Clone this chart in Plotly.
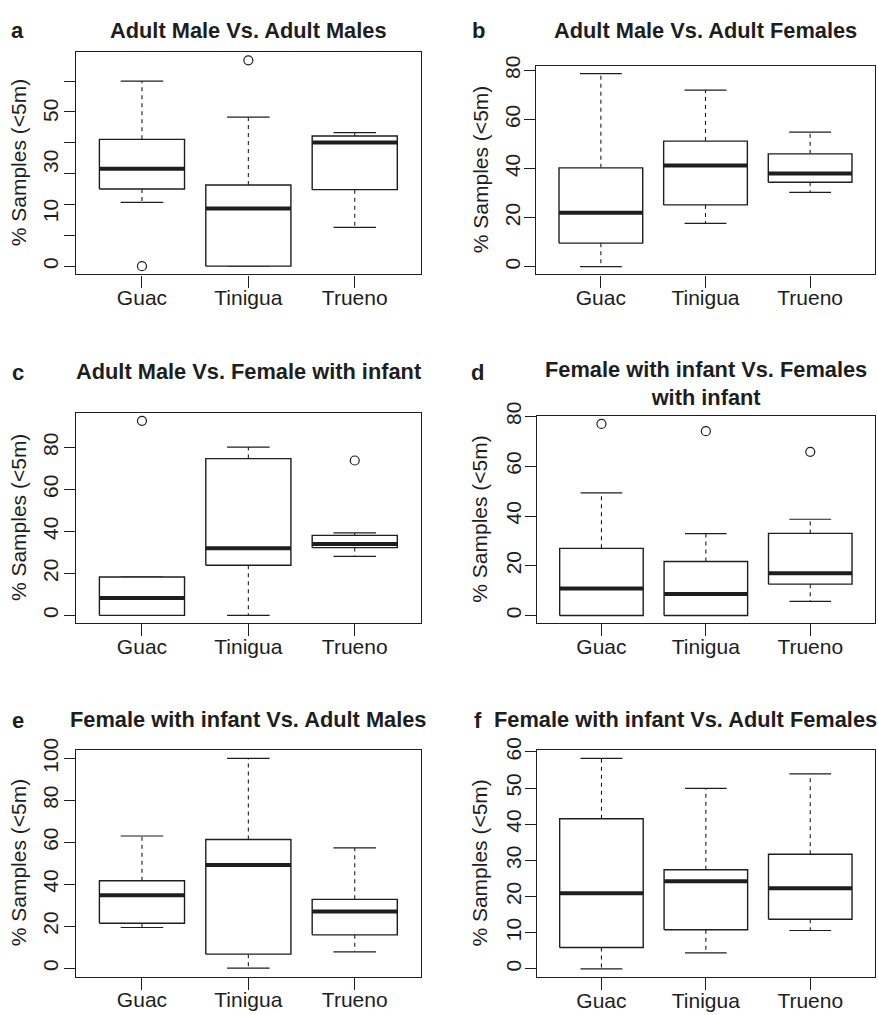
import plotly.graph_objects as go

W, H = 878, 1015

categories = ["Guac", "Tinigua", "Trueno"]

# ---- panel data (q1, median, q3, lower whisker, upper whisker, outliers) ----
a_q1 = [25.0, 0.0, 24.8]
a_med = [31.6, 18.7, 40.1]
a_q3 = [41.1, 26.3, 42.2]
a_lo = [20.7, 0.0, 12.6]
a_hi = [60.0, 48.3, 43.3]
a_out = [[0.0], [66.7], []]

b_q1 = [9.6, 25.2, 34.4]
b_med = [22.0, 41.3, 38.0]
b_q3 = [40.3, 51.2, 46.0]
b_lo = [0.0, 17.7, 30.3]
b_hi = [78.7, 72.0, 54.9]
b_out = [[], [], []]

c_q1 = [0.0, 23.9, 32.3]
c_med = [8.3, 32.0, 34.0]
c_q3 = [18.3, 74.7, 38.1]
c_lo = [0.0, 0.0, 28.1]
c_hi = [18.3, 80.2, 39.3]
c_out = [[92.7], [], [73.8]]

d_q1 = [0.0, 0.0, 12.6]
d_med = [10.9, 8.6, 17.0]
d_q3 = [27.0, 21.7, 33.0]
d_lo = [0.0, 0.0, 5.7]
d_hi = [49.3, 32.9, 38.7]
d_out = [[77.0], [74.1], [65.8]]

e_q1 = [21.4, 6.7, 15.9]
e_med = [34.8, 49.2, 27.0]
e_q3 = [41.7, 61.3, 32.8]
e_lo = [19.4, 0.0, 7.8]
e_hi = [63.0, 100.0, 57.3]
e_out = [[], [], []]

f_q1 = [5.9, 10.8, 13.7]
f_med = [20.9, 24.2, 22.3]
f_q3 = [41.5, 27.4, 31.7]
f_lo = [0.0, 4.4, 10.6]
f_hi = [58.2, 49.9, 53.9]
f_out = [[], [], []]

titles = {
    "a": "Adult Male Vs. Adult Males",
    "b": "Adult Male Vs. Adult Females",
    "c": "Adult Male Vs. Female with infant",
    "d": "Female with infant Vs. Females<br>with infant",
    "e": "Female with infant Vs. Adult Males",
    "f": "Female with infant Vs. Adult Females",
}

# y tick marks and labels
a_ticks = [0, 10, 20, 30, 40, 50, 60]
a_labvals = [0, 17.0, 33.0, 49.5]
a_labtext = ["0", "10", "30", "50"]
b_ticks = [0, 20, 40, 60, 80]
c_ticks = [0, 20, 40, 60, 80]
d_ticks = [0, 20, 40, 60, 80]
e_ticks = [0, 20, 40, 60, 80, 100]
f_ticks = [0, 10, 20, 30, 40, 50, 60]

y_axis_title = "% Samples (<5m)"

# ---- layout geometry (pixels) ----
panels = [
    ("a", (a_q1, a_med, a_q3, a_lo, a_hi, a_out), (76, 420.7, 37.7, 263.3), 16, 17.5, 16, None),
    ("b", (b_q1, b_med, b_q3, b_lo, b_hi, b_out), (536, 875, 51.7, 263.3), 15.5, 479, 16, None),
    ("c", (c_q1, c_med, c_q3, c_lo, c_hi, c_out), (76, 420.7, 404, 617.3), 362, 18, 363, None),
    ("d", (d_q1, d_med, d_q3, d_lo, d_hi, d_out), (536.7, 875, 407.3, 617.3), 374, 477.5, 363, None),
    ("e", (e_q1, e_med, e_q3, e_lo, e_hi, e_out), (76, 420.7, 746, 976), 715, 17.5, 716.5, None),
    ("f", (f_q1, f_med, f_q3, f_lo, f_hi, f_out), (536.7, 875, 746, 976.7), 715, 478, 716.5, 685),
]
yticks = {"a": a_ticks, "b": b_ticks, "c": c_ticks, "d": d_ticks, "e": e_ticks, "f": f_ticks}

INK = "#1e1e1e"
FONT = "Liberation Sans, Arial, Helvetica, sans-serif"
BOXW = 0.4
CAPW = 0.2

fig = go.Figure()
layout = dict(
    width=W, height=H, margin=dict(l=0, r=0, t=0, b=0, pad=0),
    paper_bgcolor="white", plot_bgcolor="white", showlegend=False,
    font=dict(family=FONT, size=21, color=INK),
)
annotations = []

for i, (key, data, box, ty, lx, ly, tx) in enumerate(panels):
    q1, med, q3, lo, hi, out = data
    n = i + 1
    xa = "x" if n == 1 else f"x{n}"
    ya = "y" if n == 1 else f"y{n}"
    xs = list(range(1, len(categories) + 1))

    bx, by, mx, my, wx, wy, cx, cy, ox, oy = [], [], [], [], [], [], [], [], [], []
    for k, c in enumerate(xs):
        bx += [c - BOXW, c + BOXW, c + BOXW, c - BOXW, c - BOXW, None]
        by += [q1[k], q1[k], q3[k], q3[k], q1[k], None]
        mx += [c - BOXW, c + BOXW, None]
        my += [med[k], med[k], None]
        wx += [c, c, None, c, c, None]
        wy += [q3[k], hi[k], None, q1[k], lo[k], None]
        cx += [c - CAPW, c + CAPW, None, c - CAPW, c + CAPW, None]
        cy += [hi[k], hi[k], None, lo[k], lo[k], None]
        for v in out[k]:
            ox.append(c)
            oy.append(v)

    common = dict(xaxis=xa, yaxis=ya, hoverinfo="skip", showlegend=False)
    fig.add_trace(go.Scatter(x=wx, y=wy, mode="lines",
                             line=dict(color=INK, width=1.1, dash="4px,4px"), **common))
    fig.add_trace(go.Scatter(x=cx, y=cy, mode="lines",
                             line=dict(color=INK, width=1.2), **common))
    fig.add_trace(go.Scatter(x=bx, y=by, mode="lines", fill="toself", fillcolor="white",
                             line=dict(color=INK, width=1.4), **common))
    fig.add_trace(go.Scatter(x=mx, y=my, mode="lines",
                             line=dict(color=INK, width=4), **common))
    if ox:
        fig.add_trace(go.Scatter(x=ox, y=oy, mode="markers",
                                 marker=dict(symbol="circle-open", size=9,
                                             color=INK, line=dict(width=1.2)), **common))

    # R-style ranges: 4% padding of data range
    allv = q1 + med + q3 + lo + hi + [v for o in out for v in o]
    vmin, vmax = min(allv), max(allv)
    pad = 0.04 * (vmax - vmin)
    yr = [vmin - pad, vmax + pad]
    xr = [0.5 - 0.04 * 3, 3.5 + 0.04 * 3]

    x0, x1, yt, yb = box
    xdom = [x0 / W, x1 / W]
    ydom = [1 - yb / H, 1 - yt / H]
    left = x0 < 300

    xkey = "xaxis" if n == 1 else f"xaxis{n}"
    ykey = "yaxis" if n == 1 else f"yaxis{n}"
    layout[xkey] = dict(
        domain=xdom, anchor=ya, range=xr, tickmode="array", tickvals=xs,
        ticktext=categories, ticks="outside", ticklen=12, tickwidth=1.2, tickcolor=INK,
        showline=True, mirror=True, linecolor=INK, linewidth=1.4,
        showgrid=False, zeroline=False, ticklabelstandoff=-8,
        tickfont=dict(size=21, color=INK),
    )
    ycfg = dict(
        domain=ydom, anchor=xa, range=yr, tickmode="array",
        ticks="outside", ticklen=11, tickwidth=1.2, tickcolor=INK, tickangle=-90,
        showline=True, mirror=True, linecolor=INK, linewidth=1.4,
        showgrid=False, zeroline=False, ticklabelstandoff=(-3 if left else -5),
        tickfont=dict(size=21, color=INK),
    )
    if key == "a":
        ycfg["tickvals"] = a_labvals
        ycfg["ticktext"] = a_labtext
        ycfg["tickcolor"] = "rgba(0,0,0,0)"
        ycfg["minor"] = dict(tickmode="array", tickvals=a_ticks, ticks="outside",
                             ticklen=11, tickwidth=1.2, tickcolor=INK, showgrid=False)
    else:
        ycfg["tickvals"] = yticks[key]
        ycfg["ticktext"] = [str(v) for v in yticks[key]]
    layout[ykey] = ycfg

    tcx = tx if tx is not None else (x0 + x1) / 2
    annotations.append(dict(
        text="<b>" + titles[key].replace("<br>", "</b><br><b>") + "</b>",
        x=tcx / W, y=1 - ty / H, xref="paper", yref="paper",
        xanchor="center", yanchor="middle", showarrow=False,
        font=dict(size=21.8, family=FONT, color=INK),
    ))
    annotations.append(dict(
        text="<b>" + key + "</b>", x=lx / W, y=1 - ly / H, xref="paper", yref="paper",
        xanchor="center", yanchor="middle", showarrow=False,
        font=dict(size=22, family=FONT, color=INK),
    ))
    ytx = 18 if left else 480
    annotations.append(dict(
        text=y_axis_title, x=ytx / W, y=1 - ((yt + yb) / 2) / H, xref="paper", yref="paper",
        xanchor="center", yanchor="middle", textangle=-90, showarrow=False,
        font=dict(size=21, family=FONT, color=INK),
    ))

layout["annotations"] = annotations
fig.update_layout(**layout)
fig.write_html("out.html")
